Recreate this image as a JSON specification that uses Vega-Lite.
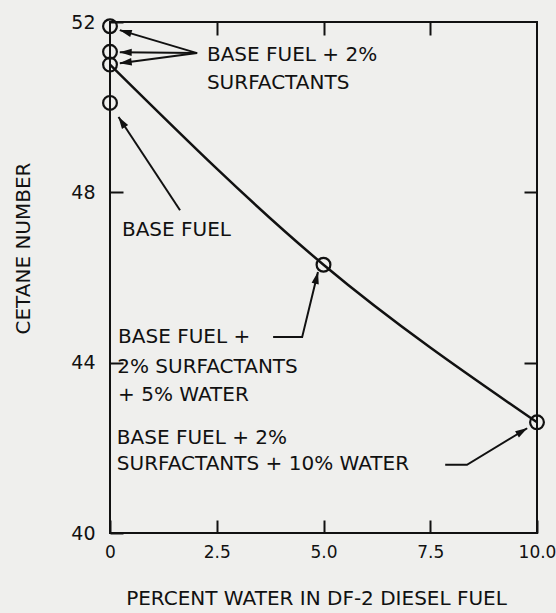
{
  "$schema": "https://vega.github.io/schema/vega-lite/v6.json",
  "width": 427,
  "height": 511,
  "autosize": {"type": "none"},
  "padding": {"left": 110, "top": 22, "right": 19, "bottom": 80},
  "background": "#efefed",
  "config": {
    "view": {"stroke": "#111111", "strokeWidth": 2},
    "font": "DejaVu Sans",
    "axis": {"grid": false, "domain": false, "tickColor": "#111111", "tickWidth": 2, "tickSize": -13, "labelColor": "#111111", "titleColor": "#111111", "labelFont": "DejaVu Sans", "titleFont": "DejaVu Sans", "titleFontWeight": "normal"}
  },
  "datasets": {
    "points": [
      {"water": 0, "cetane": 51.9},
      {"water": 0, "cetane": 51.3},
      {"water": 0, "cetane": 51.0},
      {"water": 0, "cetane": 50.1},
      {"water": 5, "cetane": 46.3},
      {"water": 10, "cetane": 42.6}
    ],
    "curve": [
      {"water": 0, "cetane": 51.0},
      {"water": 5, "cetane": 46.3},
      {"water": 10, "cetane": 42.6}
    ],
    "shafts": [
      {"id": "a1", "k": 0, "x": 2.04, "y": 51.27},
      {"id": "a1", "k": 1, "x": 0.23, "y": 51.81},
      {"id": "a2", "k": 0, "x": 2.04, "y": 51.27},
      {"id": "a2", "k": 1, "x": 0.23, "y": 51.29},
      {"id": "a3", "k": 0, "x": 2.04, "y": 51.27},
      {"id": "a3", "k": 1, "x": 0.23, "y": 51.03},
      {"id": "b", "k": 0, "x": 1.64, "y": 47.58},
      {"id": "b", "k": 1, "x": 0.2, "y": 49.77},
      {"id": "c", "k": 0, "x": 3.82, "y": 44.6},
      {"id": "c", "k": 1, "x": 4.5, "y": 44.6},
      {"id": "c", "k": 2, "x": 4.87, "y": 46.13},
      {"id": "d", "k": 0, "x": 7.85, "y": 41.6},
      {"id": "d", "k": 1, "x": 8.36, "y": 41.6},
      {"id": "d", "k": 2, "x": 9.77, "y": 42.46}
    ],
    "heads": [
      {"x": 0.36, "y": 51.772, "x0": 2.04, "y0": 51.27},
      {"x": 0.365, "y": 51.289, "x0": 2.04, "y0": 51.27},
      {"x": 0.364, "y": 51.048, "x0": 2.04, "y0": 51.27},
      {"x": 0.274, "y": 49.656, "x0": 1.64, "y0": 47.58},
      {"x": 4.839, "y": 45.998, "x0": 4.5, "y0": 44.6},
      {"x": 9.654, "y": 42.39, "x0": 8.36, "y0": 41.6}
    ],
    "labels": [
      {"text": "BASE FUEL + 2%", "x": 2.27, "y": 51.22},
      {"text": "SURFACTANTS", "x": 2.27, "y": 50.56},
      {"text": "BASE FUEL", "x": 0.28, "y": 47.11},
      {"text": "BASE FUEL +", "x": 0.19, "y": 44.6},
      {"text": "2% SURFACTANTS", "x": 0.17, "y": 43.9},
      {"text": "+ 5% WATER", "x": 0.19, "y": 43.24},
      {"text": "BASE FUEL + 2%", "x": 0.16, "y": 42.23},
      {"text": "SURFACTANTS + 10% WATER", "x": 0.16, "y": 41.62}
    ]
  },
  "resolve": {"axis": {"x": "independent", "y": "independent"}},
  "layer": [
    {
      "data": {"name": "curve"},
      "mark": {"type": "line", "interpolate": "natural", "color": "#111111", "strokeWidth": 2.5},
      "encoding": {
        "x": {"field": "water", "type": "quantitative", "scale": {"domain": [0, 10], "nice": false, "zero": false},
          "axis": {"orient": "bottom", "values": [0, 2.5, 5, 7.5, 10], "labelExpr": "datum.value == 0 ? '0' : format(datum.value, '.1f')", "labelFontSize": 17, "labelPadding": 24, "labelFlush": false, "labelOverlap": false,
            "title": "PERCENT WATER IN DF-2 DIESEL FUEL", "titleFontSize": 20, "titleX": 206, "titleY": 65, "titleBaseline": "middle", "titleAnchor": null, "titleAlign": "center"}},
        "y": {"field": "cetane", "type": "quantitative", "scale": {"domain": [40, 52], "nice": false, "zero": false},
          "axis": {"orient": "left", "values": [40, 44, 48, 52], "labelFontSize": 19, "labelPadding": 28, "labelFlush": false, "labelOverlap": false,
            "title": "CETANE NUMBER", "titleFontSize": 20, "titleX": -87, "titleY": 226, "titleBaseline": "middle", "titleAlign": "center", "titleAngle": -90}}
      }
    },
    {
      "data": {"name": "points"},
      "mark": {"type": "point", "shape": "circle", "filled": false, "size": 190, "strokeWidth": 2.2, "color": "#111111", "opacity": 1},
      "encoding": {
        "x": {"field": "water", "type": "quantitative", "axis": {"orient": "top", "values": [2.5, 5, 7.5], "labels": false, "title": null}},
        "y": {"field": "cetane", "type": "quantitative", "axis": {"orient": "right", "values": [44, 48], "labels": false, "title": null}}
      }
    },
    {
      "data": {"name": "shafts"},
      "mark": {"type": "line", "color": "#111111", "strokeWidth": 2},
      "encoding": {
        "x": {"field": "x", "type": "quantitative", "axis": null},
        "y": {"field": "y", "type": "quantitative", "axis": null},
        "detail": {"field": "id"},
        "order": {"field": "k"}
      }
    },
    {
      "data": {"name": "heads"},
      "transform": [{"calculate": "atan2(datum.x - datum.x0, datum.y - datum.y0) * 180 / PI", "as": "ang"}],
      "mark": {"type": "point", "shape": "M0,-1L-0.6,1L0.6,1Z", "filled": true, "size": 150, "color": "#111111", "opacity": 1},
      "encoding": {
        "x": {"field": "x", "type": "quantitative", "axis": null},
        "y": {"field": "y", "type": "quantitative", "axis": null},
        "angle": {"field": "ang", "type": "quantitative", "scale": null}
      }
    },
    {
      "data": {"name": "labels"},
      "mark": {"type": "text", "align": "left", "baseline": "middle", "fontSize": 20, "font": "DejaVu Sans", "color": "#111111"},
      "encoding": {
        "x": {"field": "x", "type": "quantitative", "axis": null},
        "y": {"field": "y", "type": "quantitative", "axis": null},
        "text": {"field": "text"}
      }
    }
  ]
}
